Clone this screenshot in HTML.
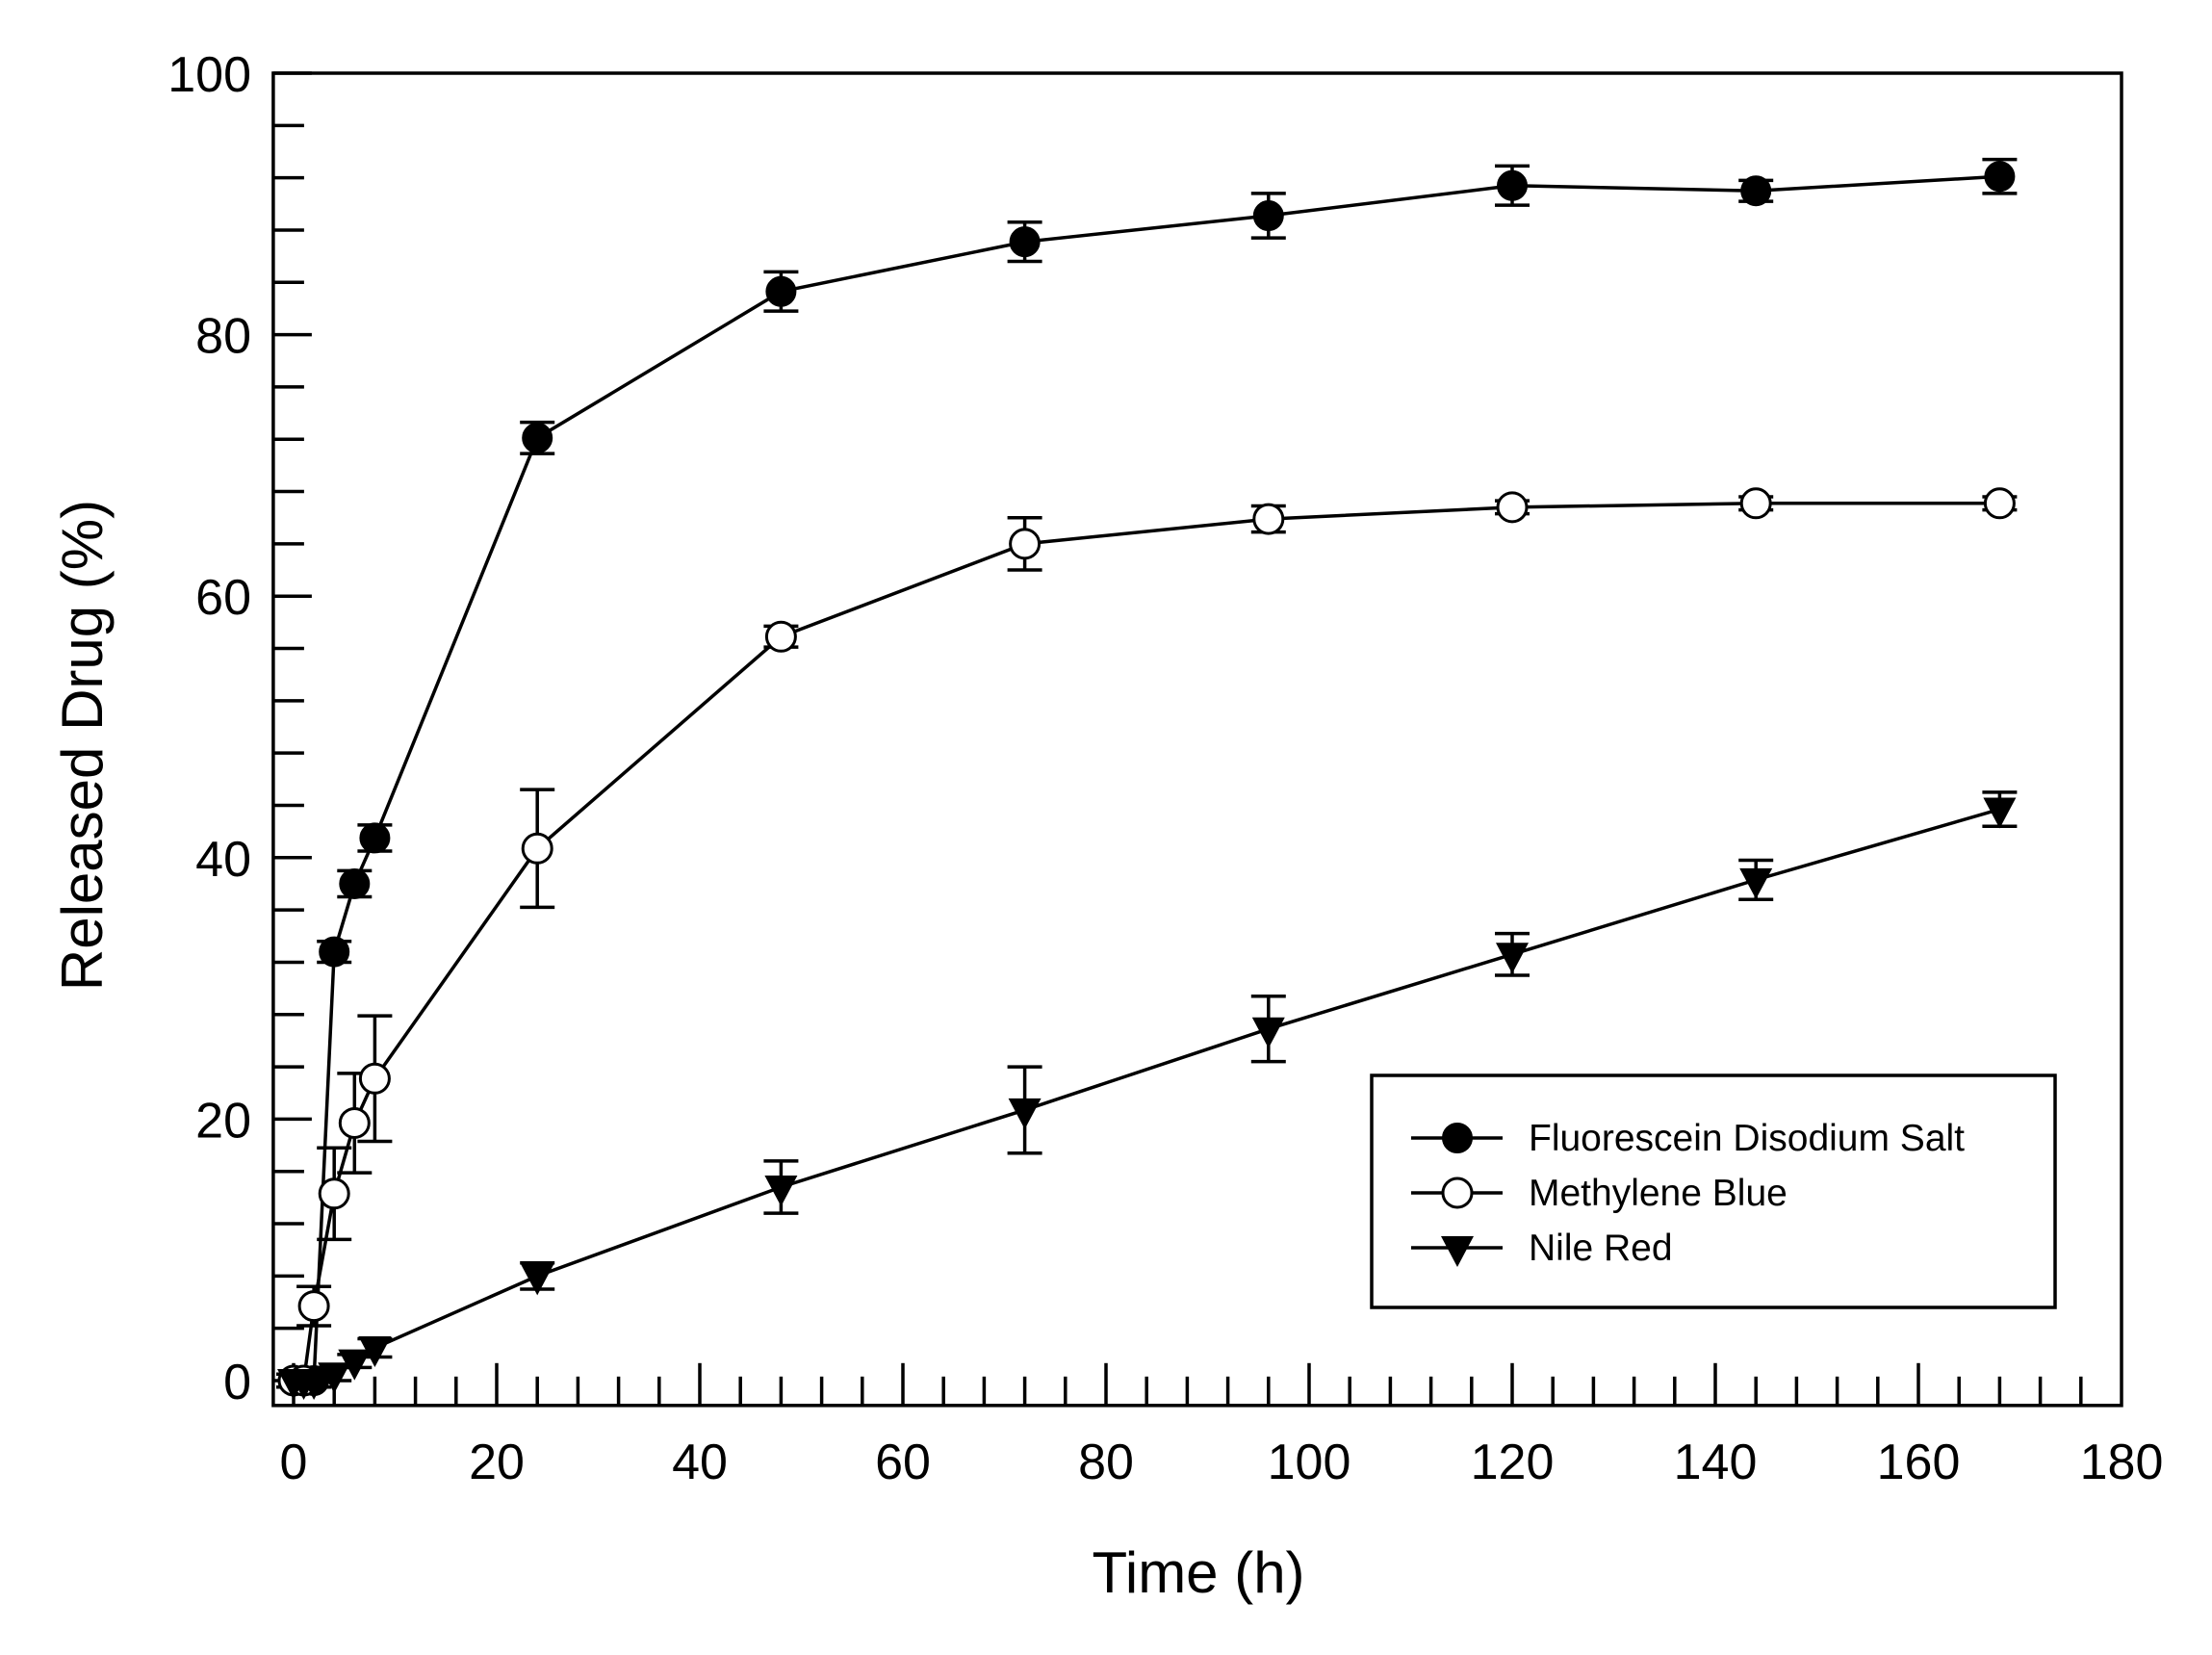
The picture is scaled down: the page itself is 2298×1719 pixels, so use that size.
<!DOCTYPE html>
<html><head><meta charset="utf-8"><style>
html,body{margin:0;padding:0;background:#fff;}
svg{display:block;}
text{font-family:"Liberation Sans",Arial,sans-serif;fill:#000;}
</style></head><body>
<svg id="c" xmlns="http://www.w3.org/2000/svg" width="2298" height="1719" viewBox="0 0 2298 1719">
<rect x="0" y="0" width="2298" height="1719" fill="#fff"/>
<rect x="1425" y="1117" width="710" height="241" fill="#fff" stroke="#000" stroke-width="3.5"/>
<g id="g"></g>
<text x="1245" y="1654" font-size="60" text-anchor="middle">Time (h)</text>
<text transform="translate(106,774) rotate(-90)" font-size="60" text-anchor="middle">Released Drug (%)</text>
<text x="1588" y="1195" font-size="39">Fluorescein Disodium Salt</text>
<text x="1588" y="1252" font-size="39">Methylene Blue</text>
<text x="1588" y="1309" font-size="39">Nile Red</text>
</svg>
<script>
var NS="http://www.w3.org/2000/svg",g=document.getElementById("g");
function X(v){return 305+v*10.55;}function Y(v){return 1434-v*13.58;}
function el(t,a){var e=document.createElementNS(NS,t);for(var k in a)e.setAttribute(k,a[k]);g.appendChild(e);return e;}
var L=X(-2),R=X(180),T=Y(100),B=Y(-1.9);
el("rect",{x:L,y:T,width:R-L,height:B-T,fill:"none",stroke:"#000","stroke-width":3.5});
for(var v=0;v<=100;v+=4){var maj=v%20==0;el("line",{x1:L,x2:L+(maj?40:32),y1:Y(v),y2:Y(v),stroke:"#000","stroke-width":3.5});
 if(maj){var t=el("text",{x:261,y:Y(v)+19,"font-size":52,"text-anchor":"end"});t.textContent=v;}}
for(var v=0;v<180;v+=4){var maj=v%20==0;el("line",{x1:X(v),x2:X(v),y1:B,y2:B-(maj?44:30),stroke:"#000","stroke-width":3.5});}
for(var v=0;v<=180;v+=20){var t=el("text",{x:X(v),y:1536,"font-size":52,"text-anchor":"middle"});t.textContent=v;}
var tt=[0,1,2,4,6,8,24,48,72,96,120,144,168];
var S=[
 {m:"f",d:[0,0,0,32.8,38,41.5,72.1,83.3,87.1,89.1,91.4,91,92.1],e:[0.5,0.5,0.5,0.8,1,1,1.2,1.5,1.5,1.7,1.5,0.8,1.3]},
 {m:"o",d:[0,0,5.7,14.3,19.7,23.1,40.7,56.9,64,65.9,66.8,67.1,67.1],e:[0,0,1.5,3.5,3.8,4.8,4.5,0.8,2,1,0.5,0.5,0.5]},
 {m:"t",d:[0,0,0,0.5,1.5,2.5,8,14.8,20.7,26.9,32.6,38.3,43.7],e:[0,0,0,0.5,0.5,0.7,1,2,3.3,2.5,1.6,1.5,1.3]}];
function mark(m,x,y){
 if(m=="f")el("circle",{cx:x,cy:y,r:15,fill:"#000",stroke:"#000","stroke-width":2});
 else if(m=="o")el("circle",{cx:x,cy:y,r:15,fill:"#fff",stroke:"#000","stroke-width":3});
 else el("polygon",{points:(x-17)+","+(y-12)+" "+(x+17)+","+(y-12)+" "+x+","+(y+20),fill:"#000"});}
S.forEach(function(s){
 var p=tt.map(function(t,i){return X(t)+","+Y(s.d[i]);}).join(" ");
 el("polyline",{points:p,fill:"none",stroke:"#000","stroke-width":3.5});
 tt.forEach(function(t,i){var e=s.e[i];if(e>0.4){var x=X(t),y1=Y(s.d[i]+e),y2=Y(s.d[i]-e);
  el("line",{x1:x,x2:x,y1:y1,y2:y2,stroke:"#000","stroke-width":3.5});
  el("line",{x1:x-18,x2:x+18,y1:y1,y2:y1,stroke:"#000","stroke-width":3.5});
  el("line",{x1:x-18,x2:x+18,y1:y2,y2:y2,stroke:"#000","stroke-width":3.5});}});
 tt.forEach(function(t,i){mark(s.m,X(t),Y(s.d[i]));});});
[["f",1182],["o",1239],["t",1296]].forEach(function(a){
 el("line",{x1:1466,x2:1561,y1:a[1],y2:a[1],stroke:"#000","stroke-width":3.5});mark(a[0],1514,a[1]);});
</script>
</body></html>
